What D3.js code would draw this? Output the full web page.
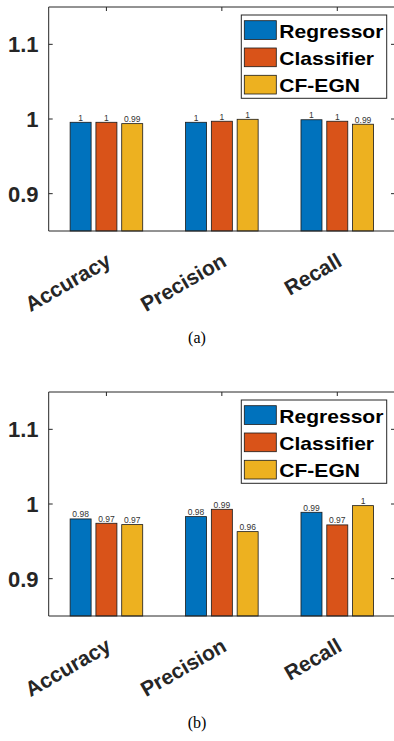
<!DOCTYPE html>
<html>
<head>
  <meta charset="utf-8">
  <script src="https://d3js.org/d3.v7.min.js"></script>
  <style>
    body { margin: 0; background: #fff; }
    svg text { font-family: "Liberation Sans", Arial, sans-serif; }
  </style>
</head>
<body>
<script>
  // categories, series and tick labels
  var categories = ["Accuracy", "Precision", "Recall"];
  var seriesNames = ["Regressor", "Classifier", "CF-EGN"];
  var seriesColors = ["#0072BD", "#D95319", "#EDB120"];
  var yTicks = [0.9, 1.0, 1.1];

  // panel (a) values, one array per series
  var aRegressor  = [0.9956, 0.9956, 0.999];
  var aClassifier = [0.9956, 0.997, 0.997];
  var aCfEgn      = [0.9938, 0.9996, 0.993];
  var aLabels = [["1", "1", "1"], ["1", "1", "1"], ["0.99", "1", "0.99"]];

  // panel (b) values
  var bRegressor  = [0.980, 0.9831, 0.9889];
  var bClassifier = [0.9742, 0.9929, 0.972];
  var bCfEgn      = [0.9724, 0.963, 0.9978];
  var bLabels = [["0.98", "0.98", "0.99"], ["0.97", "0.99", "0.97"], ["0.97", "0.96", "1"]];

  var W = 394, H = 741;
  var svg = d3.select("body").append("svg")
      .attr("width", W).attr("height", H);

  function drawPanel(top, series, labels, caption) {
    var left = 48.7, right = 395, bottom = top + 224;

    var x = d3.scaleBand().domain(categories).range([left, right]).padding(0);
    var x1 = d3.scaleBand().domain(seriesNames).range([-36.3, 36.3]).paddingInner(0.186);
    var y = d3.scaleLinear().domain([0.85, 1.15]).range([bottom, top]);

    var g = svg.append("g");
    var axisColor = "#262626";

    // ticks along the box (inward)
    yTicks.forEach(function (t) {
      g.append("line").attr("x1", left).attr("x2", left + 4)
        .attr("y1", y(t)).attr("y2", y(t)).attr("stroke", axisColor);
      g.append("line").attr("x1", right - 4).attr("x2", right)
        .attr("y1", y(t)).attr("y2", y(t)).attr("stroke", axisColor);
      g.append("text")
        .attr("x", 38.5).attr("y", y(t)).attr("dy", "0.37em")
        .attr("text-anchor", "end")
        .style("font-size", "22px").style("font-weight", "bold")
        .attr("fill", axisColor)
        .text(d3.format("")(t === 1 ? 1 : t));
    });
    categories.forEach(function (c) {
      var cx = x(c) + x.bandwidth() / 2;
      g.append("line").attr("x1", cx).attr("x2", cx)
        .attr("y1", top).attr("y2", top + 4).attr("stroke", axisColor);
    });

    // bars
    seriesNames.forEach(function (s, si) {
      var vals = series[si];
      g.selectAll(null).data(categories).enter().append("rect")
        .attr("x", function (c) { return x(c) + x.bandwidth() / 2 + x1(s); })
        .attr("width", x1.bandwidth())
        .attr("y", function (c, i) { return y(vals[i]); })
        .attr("height", function (c, i) { return bottom - y(vals[i]); })
        .attr("fill", seriesColors[si])
        .attr("stroke", "#1a1a1a").attr("stroke-width", 0.8);

      g.selectAll(null).data(categories).enter().append("text")
        .attr("x", function (c) { return x(c) + x.bandwidth() / 2 + x1(s) + x1.bandwidth() / 2; })
        .attr("y", function (c, i) { return y(vals[i]) - 1.5; })
        .attr("text-anchor", "middle")
        .style("font-size", "8.5px")
        .attr("fill", "#333")
        .text(function (c, i) { return labels[si][i]; });
    });

    // box
    g.append("path")
      .attr("d", "M" + left + "," + top + "H" + right + "V" + bottom + "H" + left + "Z")
      .attr("fill", "none").attr("stroke", axisColor).attr("stroke-width", 1);

    // rotated category labels
    categories.forEach(function (c) {
      var cx = x(c) + x.bandwidth() / 2 + 6;
      g.append("text")
        .attr("transform", "translate(" + cx + "," + (bottom + 34) + ") rotate(-30)")
        .attr("text-anchor", "end")
        .style("font-size", "21px").style("font-weight", "bold")
        .attr("fill", axisColor)
        .text(c);
    });

    // legend
    var lx = 241.3, ly = top + 8;
    var lg = g.append("g");
    lg.append("rect").attr("x", lx).attr("y", ly).attr("width", 145.4).attr("height", 83.3)
      .attr("fill", "#fff").attr("stroke", axisColor).attr("stroke-width", 1);
    seriesNames.forEach(function (s, si) {
      var ry = ly + 5.7 + si * 27.3;
      lg.append("rect").attr("x", lx + 3).attr("y", ry).attr("width", 32).attr("height", 18.7)
        .attr("fill", seriesColors[si]).attr("stroke", "#1a1a1a").attr("stroke-width", 0.8);
      lg.append("text")
        .attr("transform", "translate(" + (lx + 38) + "," + (ry + 16.8) + ") scale(1.17,1)")
        .style("font-size", "18px").style("font-weight", "bold")
        .attr("fill", "#000")
        .text(s);
    });

    // caption
    g.append("text")
      .attr("x", 197).attr("y", bottom + 112)
      .attr("text-anchor", "middle")
      .style("font-family", "'Liberation Serif', 'Times New Roman', serif")
      .style("font-size", "16px")
      .attr("fill", "#000")
      .text(caption);
  }

  drawPanel(7, [aRegressor, aClassifier, aCfEgn], aLabels, "(a)");
  drawPanel(392, [bRegressor, bClassifier, bCfEgn], bLabels, "(b)");
</script>
</body>
</html>
